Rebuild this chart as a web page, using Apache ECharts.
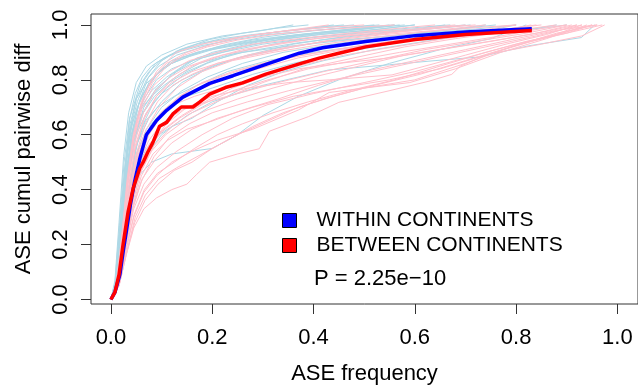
<!DOCTYPE html>
<html>
<head>
<meta charset="utf-8">
<script src="https://cdn.jsdelivr.net/npm/echarts@6/dist/echarts.min.js"></script>
<style>html,body{margin:0;padding:0;background:#fff}#c{width:638px;height:390px}</style>
</head>
<body>
<div id="c"></div>
<script>
// Tick values / labels
const xTicks = [0, 0.2, 0.4, 0.6, 0.8, 1.0];
const yTicks = [0, 0.2, 0.4, 0.6, 0.8, 1.0];
const legendNames = ['WITHIN CONTINENTS', 'BETWEEN CONTINENTS'];
const pText = 'P = 2.25e\u221210';

// Mean curves [ASE frequency, cumulative pairwise diff]
const withinMean = [[0,0],[0.008,0.027],[0.0177,0.091],[0.024,0.173],[0.031,0.255],[0.0387,0.349],[0.047,0.431],[0.057,0.513],[0.07,0.6],[0.09,0.652],[0.11,0.689],[0.142,0.737],[0.195,0.787],[0.241,0.815],[0.306,0.856],[0.372,0.897],[0.418,0.917],[0.503,0.94],[0.601,0.961],[0.7,0.974],[0.831,0.986]];
const betweenMean = [[0,0],[0.008,0.027],[0.016,0.09],[0.024,0.2],[0.034,0.32],[0.044,0.405],[0.057,0.478],[0.0636,0.5],[0.073,0.537],[0.083,0.572],[0.096,0.631],[0.11,0.645],[0.123,0.677],[0.139,0.701],[0.162,0.701],[0.175,0.719],[0.195,0.748],[0.226,0.772],[0.26,0.789],[0.306,0.821],[0.372,0.858],[0.411,0.879],[0.45,0.897],[0.503,0.92],[0.601,0.947],[0.7,0.965],[0.831,0.98]];

// Individual within-continent curves (light blue)
const withinCurves = [
 [[0,0],[0.008,0.05],[0.018,0.25],[0.028,0.48],[0.037,0.66],[0.057,0.78],[0.075,0.83],[0.096,0.865],[0.136,0.91],[0.195,0.947],[0.26,0.97],[0.326,0.988],[0.39,1]],
 [[0,0],[0.01,0.07],[0.02,0.27],[0.03,0.5],[0.042,0.64],[0.06,0.74],[0.085,0.81],[0.12,0.87],[0.17,0.9],[0.23,0.93],[0.3,0.955],[0.38,0.975],[0.46,0.99],[0.52,1]],
 [[0,0],[0.01,0.04],[0.02,0.2],[0.032,0.42],[0.045,0.58],[0.065,0.7],[0.09,0.77],[0.13,0.83],[0.18,0.88],[0.26,0.92],[0.34,0.95],[0.44,0.97],[0.53,0.985],[0.6,1]],
 [[0,0],[0.012,0.06],[0.022,0.24],[0.034,0.44],[0.05,0.6],[0.07,0.68],[0.1,0.75],[0.14,0.8],[0.2,0.85],[0.27,0.89],[0.36,0.93],[0.47,0.96],[0.58,0.98],[0.66,1]],
 [[0,0],[0.01,0.05],[0.02,0.23],[0.03,0.45],[0.04,0.6],[0.055,0.71],[0.075,0.79],[0.1,0.84],[0.14,0.88],[0.19,0.91],[0.25,0.93],[0.32,0.95],[0.41,0.97],[0.5,0.985],[0.57,1]],
 [[0,0],[0.012,0.05],[0.024,0.22],[0.036,0.4],[0.05,0.53],[0.07,0.62],[0.1,0.7],[0.14,0.76],[0.19,0.81],[0.26,0.86],[0.34,0.9],[0.44,0.93],[0.56,0.96],[0.68,0.985],[0.74,1]],
 [[0,0],[0.015,0.06],[0.028,0.22],[0.04,0.36],[0.055,0.45],[0.08,0.5],[0.12,0.53],[0.16,0.54],[0.2,0.55],[0.25,0.6],[0.3,0.67],[0.37,0.74],[0.45,0.8],[0.55,0.86],[0.65,0.91],[0.75,0.95],[0.82,1]],
 [[0,0],[0.012,0.05],[0.025,0.2],[0.04,0.38],[0.06,0.5],[0.1,0.6],[0.15,0.67],[0.2,0.72],[0.3,0.78],[0.43,0.836],[0.55,0.855],[0.64,0.87],[0.726,0.883],[0.825,0.924],[0.929,0.954],[0.955,1]],
 [[0,0],[0.008,0.07],[0.016,0.28],[0.025,0.52],[0.035,0.68],[0.05,0.79],[0.07,0.85],[0.1,0.89],[0.15,0.93],[0.22,0.96],[0.3,0.98],[0.36,1]],
 [[0,0],[0.01,0.06],[0.02,0.26],[0.03,0.46],[0.042,0.6],[0.06,0.7],[0.08,0.76],[0.11,0.81],[0.15,0.86],[0.2,0.9],[0.27,0.93],[0.35,0.96],[0.45,0.98],[0.55,1]],
 [[0,0],[0.011,0.05],[0.022,0.24],[0.033,0.47],[0.045,0.63],[0.065,0.73],[0.09,0.8],[0.12,0.84],[0.16,0.87],[0.22,0.9],[0.3,0.93],[0.4,0.955],[0.52,0.975],[0.64,0.99],[0.7,1]],
 [[0,0],[0.012,0.05],[0.024,0.21],[0.037,0.42],[0.052,0.57],[0.075,0.66],[0.1,0.72],[0.14,0.79],[0.19,0.84],[0.25,0.88],[0.33,0.91],[0.42,0.94],[0.52,0.955],[0.62,0.97],[0.72,0.985],[0.8,1]],
 [[0,0],[0.009,0.06],[0.018,0.26],[0.027,0.47],[0.038,0.62],[0.052,0.72],[0.07,0.8],[0.095,0.85],[0.13,0.89],[0.18,0.92],[0.24,0.95],[0.31,0.97],[0.4,0.99],[0.46,1]],
 [[0,0],[0.013,0.06],[0.026,0.25],[0.04,0.45],[0.055,0.55],[0.08,0.64],[0.11,0.7],[0.15,0.74],[0.2,0.77],[0.28,0.82],[0.36,0.86],[0.46,0.9],[0.58,0.94],[0.7,0.97],[0.86,0.99],[0.9,1]],
 [[0,0],[0.01,0.05],[0.021,0.22],[0.031,0.43],[0.043,0.58],[0.06,0.67],[0.085,0.75],[0.12,0.82],[0.17,0.88],[0.23,0.91],[0.31,0.94],[0.41,0.965],[0.51,0.98],[0.6,1]],
 [[0,0],[0.011,0.06],[0.021,0.25],[0.03,0.44],[0.04,0.58],[0.054,0.68],[0.072,0.77],[0.095,0.83],[0.125,0.87],[0.17,0.9],[0.23,0.92],[0.29,0.94],[0.37,0.96],[0.47,0.98],[0.56,1]],
 [[0,0],[0.009,0.05],[0.019,0.24],[0.029,0.46],[0.039,0.63],[0.05,0.73],[0.066,0.8],[0.088,0.86],[0.115,0.89],[0.15,0.915],[0.2,0.94],[0.27,0.96],[0.35,0.98],[0.42,0.99],[0.48,1]],
 [[0,0],[0.01,0.06],[0.02,0.25],[0.031,0.47],[0.043,0.61],[0.058,0.69],[0.08,0.74],[0.105,0.78],[0.135,0.82],[0.175,0.86],[0.23,0.89],[0.29,0.91],[0.37,0.935],[0.46,0.955],[0.56,0.975],[0.66,0.99],[0.71,1]],
 [[0,0],[0.012,0.05],[0.023,0.22],[0.035,0.4],[0.048,0.54],[0.064,0.64],[0.085,0.72],[0.11,0.77],[0.145,0.82],[0.19,0.86],[0.25,0.9],[0.32,0.93],[0.4,0.955],[0.5,0.975],[0.6,0.99],[0.67,1]],
 [[0,0],[0.008,0.06],[0.017,0.27],[0.026,0.5],[0.036,0.65],[0.048,0.75],[0.062,0.81],[0.08,0.85],[0.105,0.88],[0.14,0.905],[0.18,0.925],[0.24,0.945],[0.31,0.965],[0.4,0.98],[0.5,0.995],[0.53,1]],
 [[0,0],[0.013,0.05],[0.025,0.2],[0.038,0.37],[0.052,0.48],[0.07,0.55],[0.095,0.6],[0.12,0.63],[0.16,0.66],[0.21,0.72],[0.27,0.78],[0.34,0.83],[0.42,0.87],[0.52,0.91],[0.62,0.94],[0.72,0.97],[0.8,1]],
 [[0,0],[0.01,0.05],[0.02,0.23],[0.03,0.44],[0.041,0.6],[0.056,0.72],[0.074,0.81],[0.1,0.87],[0.13,0.905],[0.17,0.93],[0.22,0.95],[0.28,0.965],[0.36,0.98],[0.44,1]],
 [[0,0],[0.011,0.05],[0.022,0.23],[0.034,0.45],[0.047,0.59],[0.064,0.68],[0.086,0.74],[0.115,0.79],[0.15,0.83],[0.2,0.87],[0.26,0.9],[0.34,0.92],[0.44,0.94],[0.55,0.96],[0.66,0.98],[0.76,1]],
 [[0,0],[0.009,0.06],[0.018,0.26],[0.028,0.49],[0.038,0.64],[0.05,0.73],[0.066,0.78],[0.09,0.82],[0.12,0.86],[0.16,0.89],[0.21,0.92],[0.28,0.945],[0.37,0.965],[0.47,0.98],[0.58,1]],
 [[0,0],[0.012,0.05],[0.024,0.22],[0.036,0.42],[0.05,0.56],[0.068,0.65],[0.092,0.7],[0.125,0.74],[0.17,0.78],[0.23,0.83],[0.31,0.87],[0.4,0.9],[0.5,0.925],[0.6,0.945],[0.7,0.96],[0.8,0.975],[0.88,1]],
 [[0,0],[0.01,0.06],[0.019,0.26],[0.028,0.47],[0.038,0.61],[0.052,0.7],[0.07,0.77],[0.09,0.82],[0.12,0.86],[0.155,0.885],[0.2,0.91],[0.26,0.935],[0.33,0.955],[0.42,0.975],[0.5,0.99],[0.56,1]]
];

// Individual between-continent curves (pink)
const betweenCurves = [
 [[0,0],[0.01,0.05],[0.02,0.2],[0.032,0.42],[0.045,0.6],[0.065,0.74],[0.09,0.83],[0.129,0.9],[0.18,0.93],[0.25,0.955],[0.33,0.975],[0.42,0.99],[0.5,1]],
 [[0,0],[0.012,0.05],[0.024,0.2],[0.036,0.38],[0.05,0.52],[0.07,0.62],[0.095,0.7],[0.13,0.77],[0.18,0.83],[0.24,0.87],[0.32,0.9],[0.42,0.93],[0.52,0.955],[0.62,0.975],[0.72,0.99],[0.8,1]],
 [[0,0],[0.014,0.05],[0.028,0.2],[0.042,0.35],[0.06,0.47],[0.085,0.56],[0.12,0.63],[0.16,0.68],[0.22,0.73],[0.3,0.79],[0.38,0.84],[0.48,0.88],[0.58,0.92],[0.68,0.95],[0.8,0.98],[0.88,1]],
 [[0,0],[0.016,0.05],[0.03,0.16],[0.045,0.26],[0.065,0.33],[0.09,0.37],[0.12,0.4],[0.15,0.42],[0.169,0.455],[0.195,0.5],[0.25,0.53],[0.293,0.549],[0.313,0.613],[0.39,0.666],[0.45,0.718],[0.549,0.76],[0.628,0.795],[0.673,0.82],[0.69,0.85],[0.746,0.894],[0.85,0.93],[0.93,0.96],[0.975,1]],
 [[0,0],[0.015,0.05],[0.03,0.18],[0.045,0.3],[0.065,0.39],[0.09,0.45],[0.12,0.5],[0.16,0.54],[0.21,0.58],[0.28,0.62],[0.37,0.69],[0.431,0.754],[0.5,0.77],[0.59,0.79],[0.68,0.84],[0.77,0.9],[0.86,0.95],[0.94,1]],
 [[0,0],[0.013,0.05],[0.026,0.2],[0.04,0.36],[0.056,0.48],[0.08,0.57],[0.11,0.64],[0.15,0.7],[0.2,0.74],[0.27,0.77],[0.35,0.79],[0.431,0.8],[0.555,0.818],[0.62,0.85],[0.7,0.89],[0.78,0.93],[0.86,0.965],[0.92,1]],
 [[0,0],[0.012,0.05],[0.024,0.22],[0.035,0.4],[0.048,0.55],[0.066,0.66],[0.09,0.74],[0.12,0.8],[0.16,0.85],[0.22,0.89],[0.3,0.92],[0.4,0.95],[0.5,0.97],[0.6,0.985],[0.68,1]],
 [[0,0],[0.014,0.06],[0.027,0.22],[0.04,0.38],[0.055,0.5],[0.075,0.58],[0.1,0.64],[0.14,0.69],[0.19,0.72],[0.25,0.75],[0.33,0.79],[0.42,0.83],[0.52,0.87],[0.62,0.91],[0.72,0.94],[0.82,0.97],[0.9,1]],
 [[0,0],[0.015,0.05],[0.03,0.2],[0.045,0.33],[0.065,0.42],[0.09,0.48],[0.13,0.54],[0.18,0.6],[0.24,0.66],[0.31,0.71],[0.4,0.75],[0.5,0.79],[0.6,0.83],[0.7,0.88],[0.8,0.93],[0.89,0.97],[0.95,1]],
 [[0,0],[0.011,0.05],[0.022,0.22],[0.033,0.43],[0.045,0.58],[0.062,0.7],[0.085,0.78],[0.115,0.83],[0.155,0.87],[0.21,0.9],[0.28,0.93],[0.37,0.95],[0.47,0.97],[0.58,0.99],[0.64,1]],
 [[0,0],[0.013,0.05],[0.026,0.21],[0.039,0.37],[0.054,0.5],[0.075,0.6],[0.1,0.67],[0.13,0.73],[0.17,0.78],[0.23,0.82],[0.3,0.86],[0.38,0.89],[0.48,0.92],[0.58,0.945],[0.68,0.965],[0.78,0.985],[0.85,1]],
 [[0,0],[0.014,0.05],[0.028,0.19],[0.043,0.33],[0.06,0.43],[0.085,0.52],[0.115,0.59],[0.155,0.64],[0.2,0.68],[0.27,0.72],[0.35,0.76],[0.44,0.8],[0.54,0.84],[0.64,0.88],[0.74,0.92],[0.84,0.96],[0.93,1]],
 [[0,0],[0.012,0.05],[0.024,0.2],[0.036,0.38],[0.05,0.5],[0.07,0.6],[0.095,0.66],[0.13,0.72],[0.17,0.76],[0.22,0.8],[0.29,0.84],[0.37,0.88],[0.46,0.91],[0.56,0.94],[0.66,0.96],[0.76,0.98],[0.84,1]],
 [[0,0],[0.016,0.05],[0.032,0.18],[0.048,0.3],[0.068,0.38],[0.095,0.44],[0.13,0.48],[0.17,0.52],[0.22,0.57],[0.28,0.63],[0.34,0.68],[0.42,0.73],[0.5,0.77],[0.6,0.8],[0.7,0.86],[0.79,0.92],[0.88,0.97],[0.96,1]],
 [[0,0],[0.011,0.06],[0.022,0.24],[0.032,0.44],[0.044,0.6],[0.06,0.72],[0.08,0.8],[0.11,0.86],[0.15,0.9],[0.2,0.93],[0.27,0.96],[0.35,0.98],[0.43,1]],
 [[0,0],[0.013,0.05],[0.026,0.22],[0.038,0.39],[0.052,0.52],[0.072,0.61],[0.098,0.68],[0.135,0.74],[0.18,0.79],[0.24,0.83],[0.32,0.87],[0.41,0.9],[0.51,0.93],[0.61,0.955],[0.71,0.975],[0.8,1]],
 [[0,0],[0.015,0.05],[0.029,0.2],[0.044,0.34],[0.062,0.44],[0.088,0.51],[0.12,0.57],[0.16,0.62],[0.21,0.66],[0.28,0.7],[0.36,0.74],[0.45,0.77],[0.55,0.8],[0.65,0.84],[0.74,0.89],[0.83,0.94],[0.9,0.97],[0.97,1]],
 [[0,0],[0.012,0.06],[0.024,0.23],[0.035,0.41],[0.048,0.56],[0.067,0.67],[0.09,0.74],[0.12,0.79],[0.16,0.83],[0.21,0.86],[0.28,0.89],[0.36,0.92],[0.45,0.95],[0.55,0.97],[0.65,0.99],[0.72,1]],
 [[0,0],[0.013,0.05],[0.026,0.2],[0.039,0.36],[0.055,0.47],[0.075,0.55],[0.1,0.61],[0.135,0.66],[0.18,0.71],[0.24,0.76],[0.31,0.8],[0.39,0.84],[0.48,0.87],[0.57,0.9],[0.67,0.93],[0.77,0.96],[0.86,0.99],[0.9,1]],
 [[0,0],[0.012,0.05],[0.025,0.21],[0.037,0.38],[0.051,0.51],[0.07,0.6],[0.094,0.67],[0.125,0.71],[0.165,0.74],[0.22,0.77],[0.29,0.81],[0.37,0.85],[0.46,0.89],[0.56,0.92],[0.66,0.95],[0.76,0.975],[0.83,1]],
 [[0,0],[0.015,0.05],[0.03,0.19],[0.046,0.31],[0.066,0.4],[0.092,0.46],[0.125,0.5],[0.165,0.55],[0.21,0.6],[0.26,0.64],[0.32,0.68],[0.39,0.72],[0.47,0.76],[0.56,0.8],[0.65,0.85],[0.74,0.9],[0.82,0.94],[0.9,0.97],[0.95,1]],
 [[0,0],[0.011,0.05],[0.022,0.22],[0.034,0.42],[0.047,0.57],[0.064,0.68],[0.087,0.76],[0.117,0.81],[0.155,0.85],[0.2,0.88],[0.26,0.91],[0.34,0.935],[0.43,0.955],[0.53,0.97],[0.63,0.985],[0.7,1]],
 [[0,0],[0.014,0.05],[0.028,0.2],[0.042,0.35],[0.058,0.46],[0.08,0.54],[0.108,0.6],[0.145,0.65],[0.19,0.69],[0.25,0.73],[0.32,0.77],[0.4,0.81],[0.49,0.85],[0.58,0.89],[0.68,0.92],[0.78,0.95],[0.87,0.98],[0.92,1]],
 [[0,0],[0.012,0.05],[0.024,0.21],[0.036,0.39],[0.05,0.53],[0.068,0.64],[0.092,0.72],[0.122,0.78],[0.16,0.82],[0.21,0.86],[0.27,0.89],[0.35,0.92],[0.44,0.945],[0.54,0.965],[0.64,0.98],[0.74,1]],
 [[0,0],[0.016,0.05],[0.031,0.17],[0.047,0.28],[0.067,0.36],[0.093,0.42],[0.125,0.47],[0.16,0.5],[0.2,0.55],[0.25,0.6],[0.31,0.65],[0.37,0.7],[0.44,0.74],[0.52,0.78],[0.61,0.82],[0.7,0.87],[0.79,0.92],[0.87,0.96],[0.93,1]],
 [[0,0],[0.013,0.05],[0.027,0.21],[0.04,0.37],[0.056,0.49],[0.077,0.57],[0.104,0.62],[0.14,0.67],[0.185,0.72],[0.24,0.77],[0.3,0.81],[0.37,0.84],[0.45,0.86],[0.55,0.88],[0.65,0.91],[0.75,0.94],[0.84,0.97],[0.91,1]],
 [[0,0],[0.011,0.06],[0.022,0.24],[0.033,0.43],[0.045,0.59],[0.061,0.71],[0.082,0.79],[0.11,0.85],[0.145,0.89],[0.19,0.92],[0.25,0.945],[0.32,0.965],[0.4,0.98],[0.48,0.99],[0.56,1]],
 [[0,0],[0.014,0.05],[0.028,0.19],[0.043,0.34],[0.06,0.45],[0.083,0.53],[0.112,0.58],[0.15,0.62],[0.2,0.65],[0.26,0.69],[0.33,0.73],[0.41,0.78],[0.5,0.83],[0.6,0.87],[0.7,0.91],[0.8,0.95],[0.88,0.98],[0.96,1]]
];

const FONT = '"Liberation Sans", Arial, Helvetica, sans-serif';
const chart = echarts.init(document.getElementById('c'), null, {renderer: 'canvas'});

const series = [];
withinCurves.forEach(function (d) {
  series.push({type: 'line', data: d, showSymbol: false, silent: true, z: 2,
    lineStyle: {color: '#ADD8E6', width: 1}});
});
betweenCurves.forEach(function (d) {
  series.push({type: 'line', data: d, showSymbol: false, silent: true, z: 2,
    lineStyle: {color: '#FFC0CB', width: 1}});
});
series.push({name: legendNames[0], type: 'line', data: withinMean, showSymbol: false, z: 3,
  itemStyle: {color: '#0000FF'}, lineStyle: {color: '#0000FF', width: 3.5}});
series.push({name: legendNames[1], type: 'line', data: betweenMean, showSymbol: false, z: 4,
  itemStyle: {color: '#FF0000'}, lineStyle: {color: '#FF0000', width: 3.5}});

chart.setOption({
  animation: false,
  backgroundColor: '#ffffff',
  grid: {left: 91, top: 14, width: 549, height: 300, show: true,
    borderColor: '#333', borderWidth: 1, backgroundColor: 'transparent'},
  xAxis: {
    type: 'value', min: -0.03935, max: 1.0407,
    name: 'ASE frequency', nameLocation: 'middle', nameGap: 59, nameMoveOverlap: false,
    nameTextStyle: {fontFamily: FONT, fontSize: 22, color: '#000'},
    axisLine: {show: false, onZero: false},
    splitLine: {show: false},
    axisTick: {show: true, inside: false, length: 10, customValues: xTicks,
      lineStyle: {color: '#333', width: 1}},
    axisLabel: {customValues: xTicks, margin: 23, fontFamily: FONT, fontSize: 22, color: '#000',
      formatter: function (v) { return v.toFixed(1); }}
  },
  yAxis: {
    type: 'value', min: -0.0165, max: 1.0398,
    name: 'ASE cumul pairwise diff', nameLocation: 'middle', nameGap: 56, nameRotate: 90, nameMoveOverlap: false,
    nameTextStyle: {fontFamily: FONT, fontSize: 22, color: '#000'},
    axisLine: {show: false, onZero: false},
    splitLine: {show: false},
    axisTick: {show: true, inside: false, length: 10, customValues: yTicks,
      lineStyle: {color: '#333', width: 1}},
    axisLabel: {customValues: yTicks, rotate: 90, margin: 19, fontFamily: FONT, fontSize: 22, color: '#000',
      formatter: function (v) { return v.toFixed(1); }}
  },
  legend: {
    data: legendNames, orient: 'vertical', left: 282, top: 210, padding: 0,
    icon: 'rect', itemWidth: 14, itemHeight: 14, itemGap: 4,
    itemStyle: {borderColor: '#000', borderWidth: 1},
    textStyle: {fontFamily: FONT, fontSize: 21, color: '#000', lineHeight: 21, padding: [0, 0, 0, 15]},
    selectedMode: false
  },
  graphic: [{
    type: 'text', left: 314, top: 268,
    style: {text: pText, font: '22px ' + FONT, fill: '#000'}
  }],
  series: series
});
</script>
</body>
</html>
